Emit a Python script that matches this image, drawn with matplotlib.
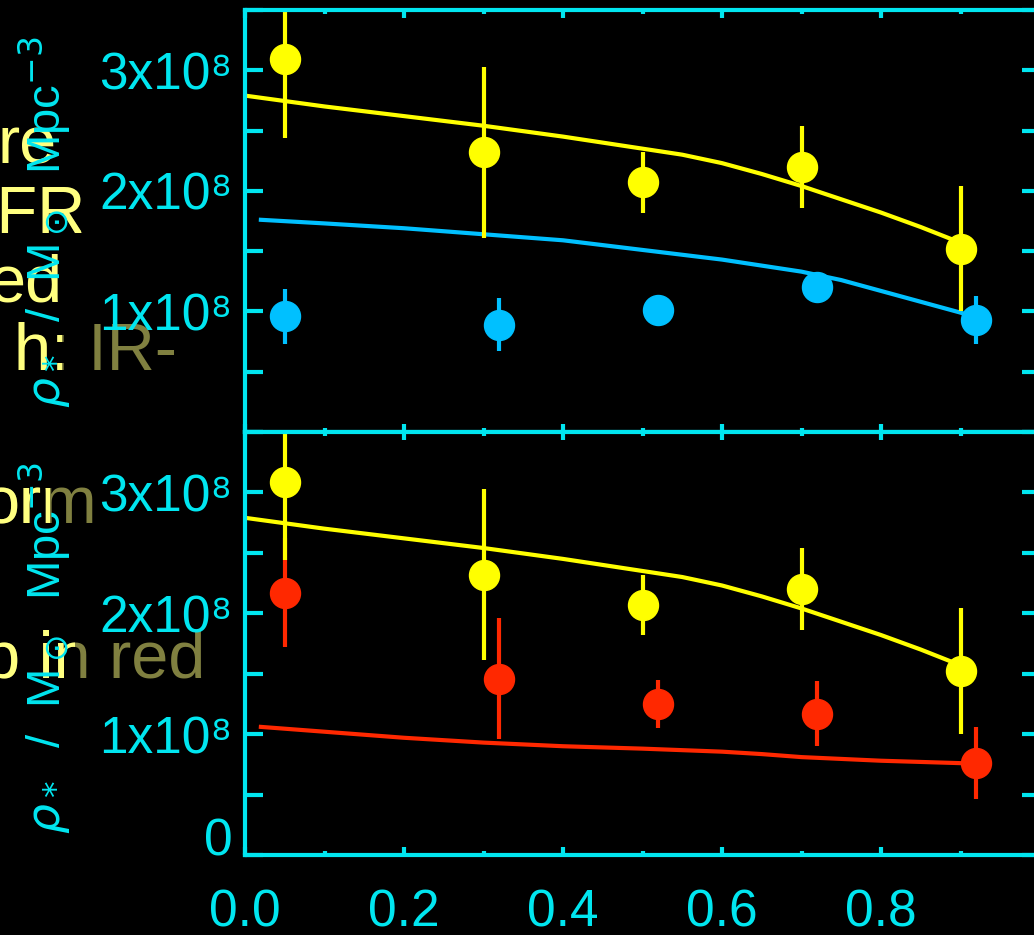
import matplotlib.pyplot as plt
from matplotlib.ticker import FixedLocator, FixedFormatter, MultipleLocator
from matplotlib.transforms import Bbox, TransformedBbox

# stellar mass density vs redshift, in units of 1e8 Msun Mpc^-3
z_total = [0.05, 0.30, 0.50, 0.70, 0.90]
rho_total = [3.09, 2.32, 2.07, 2.20, 1.52]
err_total = [0.65, 0.71, 0.25, 0.34, 0.52]

z_sub = [0.05, 0.32, 0.52, 0.72, 0.92]
rho_blue = [0.96, 0.89, 1.01, 1.20, 0.93]
err_blue = [0.23, 0.22, 0.13, 0.13, 0.20]
rho_red = [2.17, 1.46, 1.25, 1.17, 0.76]
err_red = [0.45, 0.50, 0.20, 0.27, 0.30]

# model curves
z_model = [0.0, 0.1, 0.2, 0.3, 0.4, 0.5, 0.55, 0.6, 0.65, 0.7, 0.75, 0.8, 0.85, 0.9]
model_total = [2.79, 2.70, 2.62, 2.54, 2.45, 2.35, 2.30, 2.23, 2.14, 2.04, 1.93, 1.82, 1.70, 1.57]
z_model_sub = [0.02, 0.1, 0.2, 0.3, 0.4, 0.5, 0.6, 0.65, 0.7, 0.75, 0.8, 0.85, 0.9, 0.92]
model_blue = [1.76, 1.73, 1.69, 1.64, 1.59, 1.51, 1.43, 1.38, 1.33, 1.26, 1.17, 1.08, 0.99, 0.95]
model_red = [1.06, 1.02, 0.97, 0.93, 0.90, 0.88, 0.855, 0.835, 0.81, 0.795, 0.78, 0.77, 0.76, 0.76]

xticks = [0.0, 0.2, 0.4, 0.6, 0.8]
yticks = [0, 1e8, 2e8, 3e8]
ylabels_top = ['', '1x10⁸', '2x10⁸', '3x10⁸']
ylabels_bot = ['0', '1x10⁸', '2x10⁸', '3x10⁸']

# leftover slide text (text, right edge px, baseline px, split px)
slide_lines = [('re', 57, 163, None), ('SFR', 85, 233, 81), ('ed', 62, 302, None),
               ('h: IR-', 177, 370, 62), ('orm', 97, 523, 50), ('p in red', 205, 678, 75)]

cyan = '#00E6F0'
yellow = '#FFFF00'
blue = '#00C0FF'
red = '#FF2800'
pale = '#FFFF80'
olive = '#808040'
fam = ['Liberation Sans', 'DejaVu Sans']

plt.rcParams['font.family'] = fam
plt.rcParams['mathtext.fontset'] = 'dejavusans'

W, H = 1034, 935
fig = plt.figure(figsize=(W / 100, H / 100), dpi=100, facecolor='black')

# slide text behind the plot
for s, xr, yb, split in slide_lines:
    kw = dict(ha='right', va='baseline', fontsize=48, zorder=-1)
    if split is None:
        fig.text(xr / W, 1 - yb / H, s, color=pale, **kw)
    else:
        fig.text(xr / W, 1 - yb / H, s, color=olive, **kw)
        t = fig.text(xr / W, 1 - yb / H, s, color=pale, **kw)
        t.set_clip_box(TransformedBbox(Bbox([[0, 0], [split / W, 1]]), fig.transFigure))

ax_top = fig.add_axes([245 / W, (H - 432) / H, 795 / W, 422 / H])
ax_bot = fig.add_axes([245 / W, (H - 855) / H, 795 / W, 423 / H])

for ax, labels in [(ax_top, ylabels_top), (ax_bot, ylabels_bot)]:
    ax.set_facecolor('black')
    ax.set_xlim(0, 1)
    ax.set_ylim(0, 3.5e8)
    ax.xaxis.set_major_locator(FixedLocator(xticks))
    ax.xaxis.set_minor_locator(MultipleLocator(0.1))
    ax.yaxis.set_major_locator(FixedLocator(yticks))
    ax.yaxis.set_major_formatter(FixedFormatter(labels))
    ax.yaxis.set_minor_locator(MultipleLocator(0.5e8))
    ax.xaxis.set_major_formatter(plt.FormatStrFormatter('%.1f'))
    ax.tick_params(which='both', direction='in', top=True, right=True,
                   colors=cyan, width=3, labelsize=37)
    ax.tick_params(axis='y', which='both', length=13, pad=9)
    ax.tick_params(axis='x', which='major', length=6, pad=24)
    ax.tick_params(axis='x', which='minor', length=3)
    for sp in ax.spines.values():
        sp.set_color(cyan)
        sp.set_linewidth(3)

ax_top.tick_params(labelbottom=False)

ms = 21.6
# top panel: total and blue population
ax_top.plot(z_model, [v * 1e8 for v in model_total], color=yellow, lw=3)
ax_top.plot(z_model_sub, [v * 1e8 for v in model_blue], color=blue, lw=3)
ax_top.errorbar(z_sub, [v * 1e8 for v in rho_blue], yerr=[v * 1e8 for v in err_blue],
                fmt='o', color=blue, ms=ms, elinewidth=3, capsize=0)
ax_top.errorbar(z_total, [v * 1e8 for v in rho_total], yerr=[v * 1e8 for v in err_total],
                fmt='o', color=yellow, ms=ms, elinewidth=3, capsize=0)

# bottom panel: total and red population
ax_bot.plot(z_model, [v * 1e8 for v in model_total], color=yellow, lw=3)
ax_bot.plot(z_model_sub, [v * 1e8 for v in model_red], color=red, lw=3)
ax_bot.errorbar(z_sub, [v * 1e8 for v in rho_red], yerr=[v * 1e8 for v in err_red],
                fmt='o', color=red, ms=ms, elinewidth=3, capsize=0)
ax_bot.errorbar(z_total, [v * 1e8 for v in rho_total], yerr=[v * 1e8 for v in err_total],
                fmt='o', color=yellow, ms=ms, elinewidth=3, capsize=0)

ax_bot.get_yticklabels()[0].set_verticalalignment('baseline')

ylab = r'$\rho_*$  /  M$_\odot$  Mpc$^{-3}$'
fig.text(45 / W, 1 - 222 / H, ylab, rotation=90, ha='center', va='center',
         color=cyan, fontsize=34)
fig.text(45 / W, 1 - 648 / H, ylab, rotation=90, ha='center', va='center',
         color=cyan, fontsize=34)

plt.savefig('out.png', dpi=100, facecolor='black')
